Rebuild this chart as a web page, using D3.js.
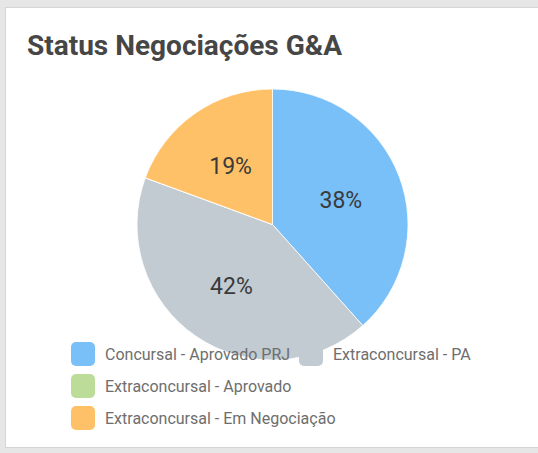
<!DOCTYPE html>
<html>
<head>
<meta charset="utf-8">
<script src="https://cdn.jsdelivr.net/npm/d3@7"></script>
<style>
  html, body { margin: 0; padding: 0; background: #e6e6e6; }
  svg { display: block; font-family: Roboto, "Noto Sans", sans-serif; }
</style>
</head>
<body>
<div id="chart"></div>
<script>
// chart data
var categories = ["Concursal - Aprovado PRJ", "Extraconcursal - PA", "Extraconcursal - Aprovado", "Extraconcursal - Em Negociação"];
var values = [38.4, 42.2, 0, 19.4];
var colors = ["#79bff8", "#c1cbd1", "#bbdd99", "#ffc168"];
var title = "Status Negociações G&A";

var width = 538,
    height = 453;

var cx = 272.5,
    cy = 224.5,
    r = 135.5;

var svg = d3.select("#chart").append("svg")
    .attr("width", width)
    .attr("height", height);

// card
svg.append("rect")
    .attr("x", 5.5)
    .attr("y", 7.5)
    .attr("width", 560)
    .attr("height", 440)
    .attr("fill", "#fff")
    .attr("stroke", "#d5d5d5");

svg.append("text")
    .attr("x", 27)
    .attr("y", 55)
    .attr("font-size", 28)
    .attr("font-weight", "bold")
    .attr("fill", "#464646")
    .text(title);

var pie = d3.pie().sort(null).value(function(d) { return d; });
var arcs = pie(values);

var arc = d3.arc().innerRadius(0).outerRadius(r);
var labelArc = d3.arc().innerRadius(r * 0.54).outerRadius(r * 0.54);

var g = svg.append("g").attr("transform", "translate(" + cx + "," + cy + ")");

g.selectAll("path")
    .data(arcs)
    .enter().append("path")
    .attr("d", arc)
    .attr("fill", function(d, i) { return colors[i]; })
    .attr("stroke", "#fff")
    .attr("stroke-width", 0.8);

g.selectAll("text")
    .data(arcs.filter(function(d) { return d.value > 0; }))
    .enter().append("text")
    .attr("transform", function(d) { return "translate(" + labelArc.centroid(d) + ")"; })
    .attr("text-anchor", "middle")
    .attr("dy", "0.4em")
    .attr("font-size", 23)
    .attr("fill", "#3a3a3a")
    .text(function(d) { return Math.round(d.value) + "%"; });

// legend: first row holds two items, the rest go one per row
var legend = svg.append("g").attr("transform", "translate(71,342)");

var item = legend.selectAll("g")
    .data(categories)
    .enter().append("g")
    .attr("transform", function(d, i) {
        var col = i == 1 ? 1 : 0;
        var row = i < 2 ? 0 : i - 1;
        return "translate(" + (col * 228) + "," + (row * 32) + ")";
    });

item.append("rect")
    .attr("width", 24)
    .attr("height", 24)
    .attr("rx", 5)
    .attr("fill", function(d, i) { return colors[i]; });

item.append("text")
    .attr("x", 34)
    .attr("y", 17.5)
    .attr("font-size", 16)
    .attr("fill", "#6e6e6e")
    .text(function(d) { return d; });
</script>
</body>
</html>
